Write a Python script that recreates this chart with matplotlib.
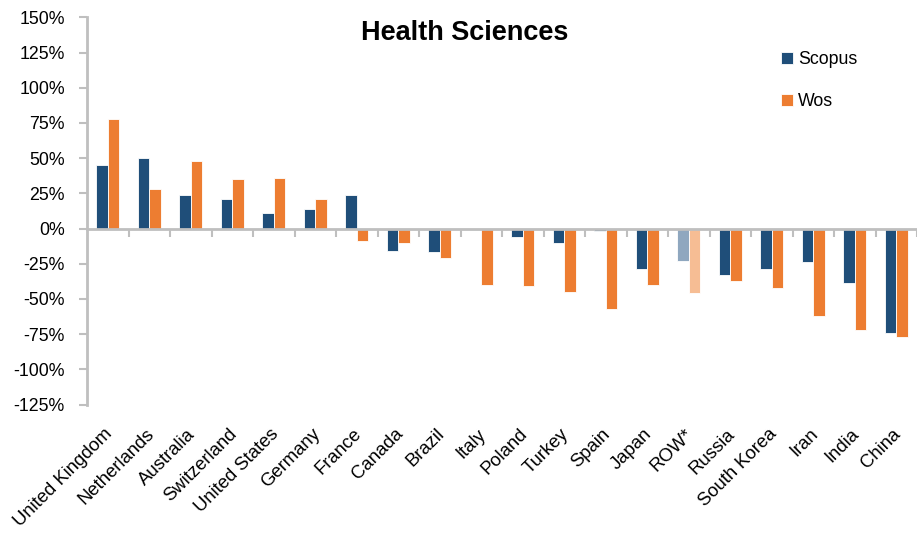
import matplotlib
matplotlib.use("Agg")
import matplotlib.pyplot as plt
import numpy as np

countries = ["United Kingdom", "Netherlands", "Australia", "Switzerland", "United States",
             "Germany", "France", "Canada", "Brazil", "Italy", "Poland", "Turkey", "Spain",
             "Japan", "ROW*", "Russia", "South Korea", "Iran", "India", "China"]
scopus = [45, 50, 24, 21, 11, 14, 24, -16, -17, -1, -6, -10, -2,
          -29, -23, -33, -29, -24, -39, -74]
wos = [78, 28, 48, 35, 36, 21, -9, -10, -21, -40, -41, -45, -57,
       -40, -46, -37, -42, -62, -72, -77]
yticks = [150, 125, 100, 75, 50, 25, 0, -25, -50, -75, -100, -125]

blue = "#1F4E79"
orange = "#ED7D31"
blue_light = "#8FA7BF"
orange_light = "#F6BD94"
grey = "#BFBFBF"

plt.rcParams["font.family"] = ["Liberation Sans", "DejaVu Sans"]

fig = plt.figure(figsize=(9.17, 5.33), dpi=100)
ax = fig.add_axes([87/917, 1 - 404.5/533, 1 - 87/917, (404.5 - 17.4)/533])

x = np.arange(len(countries))
w = 0.28
c_sc = [blue_light if c == "ROW*" else blue for c in countries]
c_wo = [orange_light if c == "ROW*" else orange for c in countries]
ax.bar(x - w/2, scopus, w, color=c_sc, edgecolor="white", linewidth=0.6, label="Scopus", zorder=2)
ax.bar(x + w/2, wos, w, color=c_wo, edgecolor="white", linewidth=0.6, label="Wos", zorder=2)

ax.set_xlim(-0.5, 19.4)
ax.set_ylim(-125, 150)
ax.set_yticks(yticks)
ax.set_yticklabels([f"{v}%" for v in yticks], fontsize=12.8)
ax.tick_params(axis="y", direction="out", length=6, width=1.5, color=grey, pad=10)

for s in ["top", "right"]:
    ax.spines[s].set_visible(False)
ax.spines["left"].set_color(grey)
ax.spines["left"].set_linewidth(2)
ax.spines["bottom"].set_position(("data", 0))
ax.spines["bottom"].set_color(grey)
ax.spines["bottom"].set_linewidth(2)
ax.spines["bottom"].set_zorder(3)

ax.set_xticks(x + 0.5)
ax.set_xticklabels([])
ax.tick_params(axis="x", direction="out", length=6, width=1.5, color=grey)

for i, name in enumerate(countries):
    ax.text(i + 0.05, -0.07, name, transform=ax.get_xaxis_transform(), rotation=45,
            rotation_mode="anchor", ha="right", va="center", fontsize=13.3)

fig.text(465/917, 1 - 33/533, "Health Sciences", fontsize=19.5, fontweight="bold",
         ha="center", va="center")

ax.legend(loc="upper left", bbox_to_anchor=(774/917, 1 - 44/533), bbox_transform=fig.transFigure,
          frameon=False, fontsize=12.8, handlelength=0.65, handleheight=0.65,
          handletextpad=0.3, labelspacing=1.4, borderaxespad=0)

fig.savefig("out.png", dpi=100)
